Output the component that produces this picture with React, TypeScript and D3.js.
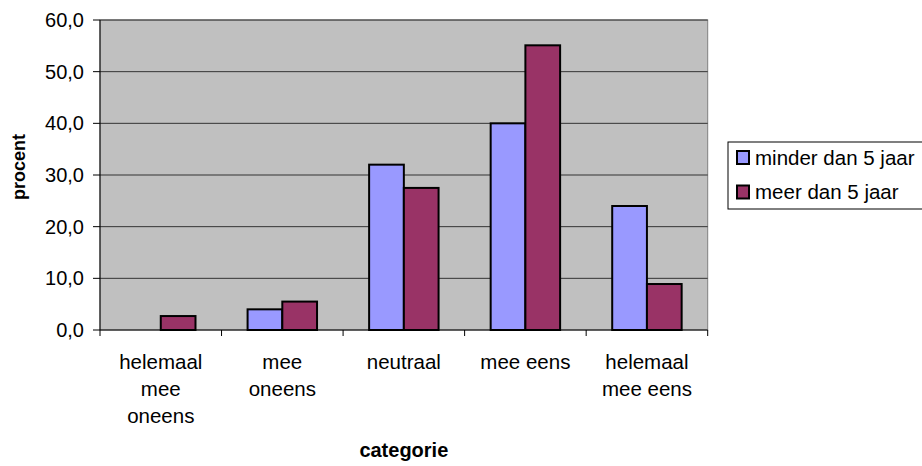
import React from "react";
import * as d3 from "d3";

const categories: string[][] = [
  ["helemaal", "mee", "oneens"],
  ["mee", "oneens"],
  ["neutraal"],
  ["mee eens"],
  ["helemaal", "mee eens"],
];
const seriesNames = ["minder dan 5 jaar", "meer dan 5 jaar"];
const minderDan5 = [0, 4.0, 32.0, 40.0, 24.0];
const meerDan5 = [2.7, 5.5, 27.5, 55.1, 8.9];
const yTicks = [0, 10, 20, 30, 40, 50, 60];
const colors = ["#9999FF", "#993366"];

const W = 922;
const H = 466;
const left = 100;
const right = 707.7;
const top = 20;
const bottom = 330;
const FONT = "'Liberation Sans', Arial, sans-serif";

export default function App() {
  const x = d3
    .scaleBand<number>()
    .domain(categories.map((_, i) => i))
    .range([left, right])
    .padding(0);
  const y = d3.scaleLinear().domain([0, 60]).range([bottom, top]);
  const bw = x.bandwidth();
  const barW = bw / 3.5;
  const offset = barW * 0.75;
  const series = [minderDan5, meerDan5];

  return (
    <svg
      width={W}
      height={H}
      style={{ position: "absolute", left: 0, top: 0, background: "#fff" }}
      fontFamily={FONT}
    >
      <rect x={left} y={top} width={right - left} height={bottom - top} fill="#C0C0C0" stroke="#808080" strokeWidth={1} />
      {yTicks.slice(1).map((t) => (
        <line key={"g" + t} x1={left} x2={right} y1={y(t)} y2={y(t)} stroke="#333" strokeWidth={1} />
      ))}
      {series.map((vals, si) =>
        vals.map((v, ci) =>
          v > 0 ? (
            <rect
              key={si + "-" + ci}
              x={(x(ci) as number) + offset + si * barW}
              y={y(v)}
              width={barW}
              height={y(0) - y(v)}
              fill={colors[si]}
              stroke="#000"
              strokeWidth={2}
            />
          ) : null
        )
      )}
      {/* y axis */}
      <line x1={left} x2={left} y1={top} y2={bottom} stroke="#000" strokeWidth={1} />
      {yTicks.map((t) => (
        <g key={"t" + t}>
          <line x1={left - 7} x2={left} y1={y(t)} y2={y(t)} stroke="#000" />
          <text x={84} y={y(t) + 7} textAnchor="end" fontSize={20} fill="#000">
            {d3.format(".1f")(t).replace(".", ",")}
          </text>
        </g>
      ))}
      {/* x axis */}
      <line x1={left} x2={right} y1={bottom} y2={bottom} stroke="#000" strokeWidth={1} />
      {categories.map((_, i) => (
        <line key={"xt" + i} x1={x(i) as number} x2={x(i) as number} y1={bottom} y2={bottom + 6} stroke="#000" />
      ))}
      <line x1={right} x2={right} y1={bottom} y2={bottom + 6} stroke="#000" />
      {categories.map((lines, i) => (
        <text key={"xl" + i} textAnchor="middle" fontSize={20.5} fill="#000">
          {lines.map((l, j) => (
            <tspan key={j} x={(x(i) as number) + bw / 2} y={369 + j * 27}>
              {l}
            </tspan>
          ))}
        </text>
      ))}
      <text x={(left + right) / 2} y={457} textAnchor="middle" fontSize={20} fontWeight="bold" fill="#000">
        categorie
      </text>
      <text
        transform={`translate(25,${167}) rotate(-90)`}
        textAnchor="middle"
        fontSize={18}
        fontWeight="bold"
        fill="#000"
      >
        procent
      </text>
      {/* legend */}
      <rect x={728} y={142} width={220} height={67} fill="#fff" stroke="#000" strokeWidth={1} />
      {seriesNames.map((n, i) => (
        <g key={"lg" + i}>
          <rect x={737} y={151 + i * 34.5} width={12} height={13} fill={colors[i]} stroke="#000" strokeWidth={2} />
          <text x={755} y={165 + i * 34} fontSize={20.5} fill="#000">
            {n}
          </text>
        </g>
      ))}
    </svg>
  );
}
